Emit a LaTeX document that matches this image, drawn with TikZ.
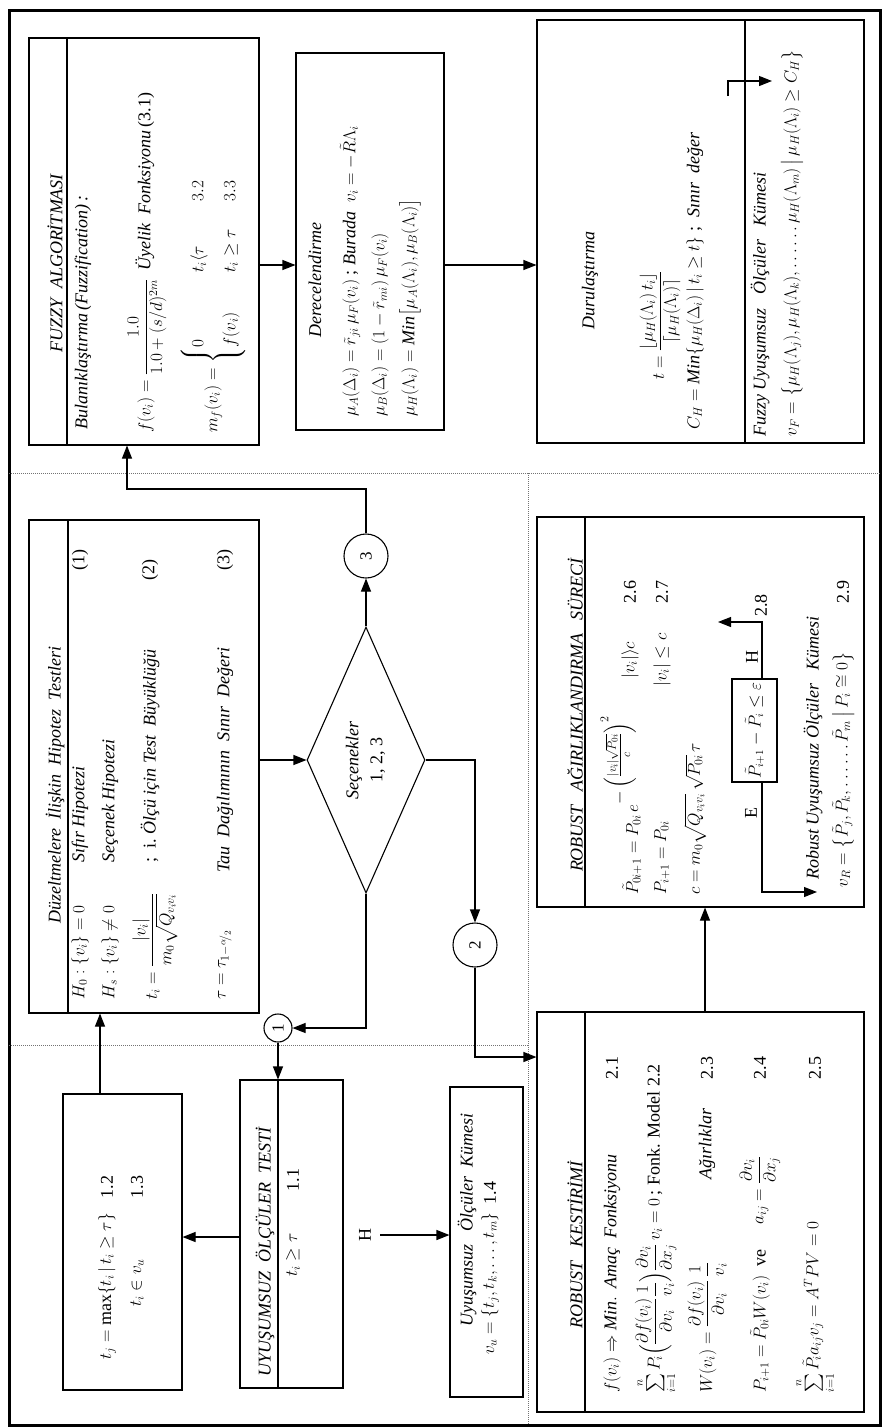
\documentclass[tikz,border=0pt]{standalone}
\usepackage{amsmath,amssymb}
\usepackage{graphicx}
\usepackage{fontspec}
\setmainfont{Liberation Serif}
\usetikzlibrary{arrows.meta,shapes.geometric}
\begin{document}
\begin{tikzpicture}[x=1pt,y=1pt,
  bx/.style={draw,line width=1.1pt,inner sep=0pt},
  arr/.style={line width=1.1pt,-{Triangle[length=13pt,width=10pt]}},
  ln/.style={line width=1.1pt},
  dv/.style={densely dotted,line width=1pt,black!55},
  txt/.style={rotate=90,inner sep=0pt,font=\fontsize{18}{22}\selectfont},
  txtw/.style={txt,anchor=west},
  ttl/.style={txt,font=\fontsize{18}{22}\selectfont\itshape},
  circ/.style={draw,circle,line width=1.1pt,inner sep=0pt,font=\fontsize{17}{20}\selectfont},
]
\useasboundingbox (0,0) rectangle (884,-1428);
\fill[white] (0,0) rectangle (884,-1428);
\draw[line width=3pt] (9,-10) rectangle (880,-1425);
% dotted dividers
\draw[dv] (9,-473) -- (880,-473);
\draw[dv] (528,-473) -- (528,-1425);
\draw[dv] (9,-1045) -- (528,-1045);

% ---------- boxes ----------
\node[bx,minimum width=230pt,minimum height=407pt] (fuzzy) at (144,-241.5) {};
\draw[ln] (67,-38) -- (67,-445);
\node[bx,minimum width=148pt,minimum height=377pt] (dere) at (370,-241.5) {};
\node[bx,minimum width=327pt,minimum height=423pt] (duru) at (700.5,-231.5) {};
\draw[ln] (745,-20) -- (745,-443);
\node[bx,minimum width=230pt,minimum height=493pt] (duz) at (144,-766.5) {};
\draw[ln] (68,-520) -- (68,-1013);
\node[bx,diamond,aspect=0.45,minimum width=118pt,minimum height=266pt,font=\fontsize{18}{22}\selectfont] (dia) at (366,-760)
  {\rotatebox{90}{\begin{tabular}{@{}c@{}}\textit{Seçenekler}\\[2pt] 1, 2, 3\end{tabular}}};
\node[circ,minimum size=44pt] (c3) at (366,-556) {\rotatebox{90}{3}};
\node[circ,minimum size=44pt] (c2) at (475,-945) {\rotatebox{90}{2}};
\node[circ,minimum size=28pt] (c1) at (278,-1028) {\rotatebox{90}{1}};
\node[bx,minimum width=103pt,minimum height=308pt] (uyt) at (291.5,-1234) {};
\draw[ln] (278,-1080) -- (278,-1388);
\node[bx,minimum width=119pt,minimum height=296pt] (maxb) at (122.5,-1242) {};
\node[bx,minimum width=73pt,minimum height=310pt] (kume) at (486.5,-1242) {};
\node[bx,minimum width=327pt,minimum height=400pt] (rkest) at (700.5,-1212) {};
\draw[ln] (585,-1012) -- (585,-1412);
\node[bx,minimum width=327pt,minimum height=390pt] (ragir) at (700.5,-712) {};
\draw[ln] (585,-517) -- (585,-907);
\node[bx,minimum width=45pt,minimum height=103pt,font=\fontsize{16}{19}\selectfont] (sbox) at (754.5,-730.5)
  {\rotatebox{90}{$\tilde P_{i+1}-\tilde P_i\leq\varepsilon$}};

% ---------- connectors ----------
\coordinate (y265) at (0,-265);
\draw[arr] (fuzzy.east |- y265) -- (dere.west |- y265);
\draw[arr] (dere.east |- y265) -- (duru.west |- y265);
\draw[arr] (duz.east |- dia.west) -- (dia.west);
\draw[arr] (dia.north) -- (c3.south);
\coordinate (k1) at (127,-489);
\draw[arr] (c3.north) |- (k1) -- (k1 |- fuzzy.south);
\draw[arr] (dia.south) |- (c1.east);
\draw[arr] (c1.south) -- (c1.south |- uyt.north);
\draw[arr] (dia.east) -| (c2.north);
\coordinate (k2) at (0,-1057);
\draw[arr] (c2.south) |- (rkest.west |- k2);
\coordinate (k3) at (705,0);
\draw[arr] (rkest.north -| k3) -- (ragir.south -| k3);
\coordinate (k4) at (0,-1237);
\draw[arr] (uyt.west |- k4) -- (maxb.east |- k4);
\coordinate (k5) at (100,0);
\draw[arr] (maxb.north -| k5) -- (duz.south -| k5);
\node[txt] (hl) at (365,-1235) {H};
\draw[arr,shorten <=9pt] (hl) -- (kume.west |- hl);
% loop in weighting box
\coordinate (k6) at (762,0);
\coordinate (k7) at (718,-622);
\coordinate (k8) at (817,-892);
\draw[arr] (sbox.north -| k6) |- (k7);
\draw[arr] (sbox.south -| k6) |- (k8);
\node[txt] (lH) at (752,-657) {H};
\node[txt] (lE) at (751,-813) {E};
\node[txtw] (l28) at (761,-617) {2.8};
% small arrow in defuzzification box
\coordinate (k9) at (728,-96);
\coordinate (k10) at (772,-81);
\draw[arr] (k9) |- (k10);

% ---------- FUZZY texts ----------
\node[ttl] (fzt) at (55,-263) {FUZZY\ \ ALGORİTMASI};
\node[txtw] (fz1) at (83,-430) {\itshape Bulanıklaştırma\,(Fuzzification)\,:};
\node[txtw] (fz2) at (147,-433) {$f(v_i)=\dfrac{1.0}{1.0+(s/d)^{2m}}$\ \ \textit{Üyelik\ \ Fonksiyonu}\,(3.1)};
\node[txtw] (fz3) at (213,-433) {\def\arraystretch{1.45}$m_f(v_i)=\left\{\begin{array}{@{}l@{\hspace{40pt}}l@{\hspace{28pt}}l@{}}0 & t_i\langle\tau & 3.2\\ f(v_i) & t_i\geq\tau & 3.3\end{array}\right.$};

% ---------- Derecelendirme ----------
\node[ttl] (det) at (315,-280) {Derecelendirme};
\node[txtw] (de1) at (350,-417) {$\mu_A(\Delta_i)=\tilde r_{ji}\,\mu_F(v_i)$\ ;\ \textit{Burada}\ \ $v_i=-\tilde R\Lambda_i$};
\node[txtw] (de2) at (380,-417) {$\mu_B(\Delta_i)=(1-\tilde r_{mi})\,\mu_F(v_i)$};
\node[txtw] (de3) at (410,-417) {$\mu_H(\Lambda_i)=\mathit{Min}\bigl[\mu_A(\Lambda_i),\mu_B(\Lambda_i)\bigr]$};

% ---------- Durulastirma ----------
\node[ttl] (dut) at (590,-280) {Durulaştırma};
\node[txtw] (du1) at (660,-380) {$t=\dfrac{\lfloor\mu_H(\Lambda_i)\,t_i\rfloor}{\lceil\mu_H(\Lambda_i)\rceil}$};
\node[txtw] (du2) at (695,-430) {$C_H=\mathit{Min}\{\mu_H(\Delta_i)\,|\,t_i\geq t\}$\ ;\ \ \textit{Sınır\ \ değer}};
\node[txtw] (du3) at (760,-437) {\itshape Fuzzy Uyuşumsuz\ \ \ Ölçüler\ \ \ Kümesi};
\node[txtw] (du4) at (792,-437) {$v_F=\bigl\{\mu_H(\Lambda_j),\mu_H(\Lambda_k),\ldots\ldots\mu_H(\Lambda_m)\,\big|\,\mu_H(\Lambda_i)\geq C_H\bigr\}$};

% ---------- Hipotez testleri ----------
\node[ttl] (dzt) at (55,-785) {Düzeltmelere\ \ İlişkin\ \ Hipotez\ \ Testleri};
\node[txtw] (dz1a) at (80,-1000) {$H_0:\{v_i\}=0$};
\node[txtw] (dz1b) at (80,-863) {\itshape Sıfır Hipotezi};
\node[txt] (dz1c) at (80,-560) {(1)};
\node[txtw] (dz2a) at (110,-1000) {$H_s:\{v_i\}\neq 0$};
\node[txtw] (dz2b) at (110,-863) {\itshape Seçenek Hipotezi};
\node[txtw] (dz3a) at (155,-1000) {$t_i=\dfrac{|v_i|}{m_0\sqrt{Q_{v_iv_i}}}$};
\node[txtw] (dz3b) at (150,-863) {;\ \ i.\ \textit{Ölçü için Test\ \ Büyüklüğü}};
\node[txt] (dz3c) at (150,-570) {(2)};
\node[txtw] (dz4a) at (225,-1000) {$\tau=\tau_{1-{}^{\alpha}\!/_{2}}$};
\node[txtw] (dz4b) at (225,-873) {\itshape Tau\ \ Dağılımının\ \ Sınır\ \ Değeri};
\node[txt] (dz4c) at (225,-560) {(3)};

% ---------- Uyusumsuz olculer testi ----------
\node[ttl] (utt) at (265,-1252) {UYUŞUMSUZ\ \ ÖLÇÜLER\ \ TESTİ};
\node[txt] (ut1) at (293,-1255) {$t_i\geq\tau$};
\node[txt] (ut2) at (293,-1180) {1.1};

% ---------- max box ----------
\node[txtw] (mx1) at (107,-1360) {$t_j=\max\{t_i\,|\,t_i\geq\tau\}$};
\node[txt] (mx2) at (107,-1187) {1.2};
\node[txt] (mx3) at (137,-1283) {$t_i\in v_u$};
\node[txt] (mx4) at (137,-1187) {1.3};

% ---------- kume ----------
\node[txtw] (ku1) at (467,-1327) {\itshape Uyuşumsuz\ \ \ Ölçüler\ \ Kümesi};
\node[txtw] (ku2) at (490,-1355) {$v_u=\{t_j,t_k,\ldots,t_m\}$};
\node[txt] (ku3) at (490,-1193) {1.4};

% ---------- Robust kestirimi ----------
\node[ttl] (rkt) at (575,-1245) {ROBUST\ \ \ KESTİRİMİ};
\node[txtw] (rk1) at (612,-1393) {$f(v_i)\Rightarrow\mathit{Min.}$\ \ \textit{Amaç\ \ Fonksiyonu}};
\node[txt] (rk1n) at (612,-1068) {2.1};
\node[txtw] (rk2) at (656,-1393) {$\sum\limits_{i=1}^{n}P_i\Bigl(\dfrac{\partial f(v_i)}{\partial v_i}\dfrac{1}{v_i}\Bigr)\dfrac{\partial v_i}{\partial x_j}\,v_i=0$\,; Fonk. Model 2.2};
\node[txtw] (rk3) at (707,-1393) {$W(v_i)=\dfrac{\partial f(v_i)}{\partial v_i}\,\dfrac{1}{v_i}$};
\node[txtw] (rk3b) at (707,-1180) {\itshape Ağırlıklar};
\node[txt] (rk3n) at (707,-1068) {2.3};
\node[txtw] (rk4) at (760,-1393) {$P_{i+1}=\tilde P_{0i}W(v_i)$\ \ ve};
\node[txtw] (rk4b) at (760,-1225) {$a_{ij}=\dfrac{\partial v_i}{\partial x_j}$};
\node[txt] (rk4n) at (760,-1068) {2.4};
\node[txtw] (rk5) at (815,-1393) {$\sum\limits_{i=1}^{n}\tilde P_i a_{ij}v_j=A^TPV=0$};
\node[txt] (rk5n) at (815,-1068) {2.5};

% ---------- Robust agirliklandirma ----------
\node[ttl] (rat) at (575,-715) {ROBUST\ \ \ AĞIRLIKLANDIRMA\ \ \ SÜRECİ};
\node[txt,anchor=base west] (ra1) at (638,-895) {$\tilde P_{0i+1}=P_{0i}\,e^{\textstyle-\left(\frac{|v_i|\sqrt{P_{0i}}}{c}\right)^{2}}$};
\node[txt] (ra1b) at (630,-660) {$|v_i|\rangle c$};
\node[txt] (ra1n) at (630,-592) {2.6};
\node[txtw] (ra2) at (662,-895) {$P_{i+1}=P_{0i}$};
\node[txt] (ra2b) at (662,-660) {$|v_i|\leq c$};
\node[txt] (ra2n) at (662,-592) {2.7};
\node[txtw] (ra3) at (695,-895) {$c=m_0\sqrt{Q_{v_iv_i}}\,\sqrt{P_{0i}}\,\tau$};
\node[txtw] (ra4) at (813,-880) {\itshape Robust Uyuşumsuz Ölçüler\ \ \ Kümesi};
\node[txtw] (ra5) at (843,-888) {$v_R=\bigl\{\tilde P_j,\tilde P_k,\ldots\ldots\tilde P_m\,\big|\,P_i\cong 0\bigr\}$};
\node[txt] (ra5n) at (843,-592) {2.9};
\end{tikzpicture}
\end{document}
